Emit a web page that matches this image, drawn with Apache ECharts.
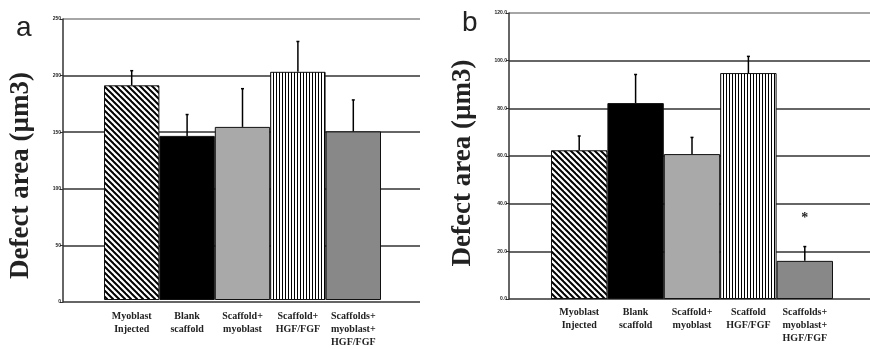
<!DOCTYPE html>
<html>
<head>
<meta charset="utf-8">
<script src="https://cdn.jsdelivr.net/npm/echarts@6/dist/echarts.min.js"></script>
<style>
  html, body { margin: 0; padding: 0; background: #fff; }
  #chart { width: 870px; height: 349px; }
</style>
</head>
<body>
<div id="chart"></div>
<script>
// panel a
const catsA = ['Myoblast\nInjected', 'Blank\nscaffold', 'Scaffold+\nmyoblast', 'Scaffold+\nHGF/FGF', 'Scaffolds+\nmyoblast+\nHGF/FGF']
const meanA = [191, 146, 154, 203, 150]
const sdA = [13, 19, 34, 27, 28]
const ticksA = ['0', '50', '100', '150', '200', '250']

// panel b
const catsB = ['Myoblast\nInjected', 'Blank\nscaffold', 'Scaffold+\nmyoblast', 'Scaffold\nHGF/FGF', 'Scaffolds+\nmyoblast+\nHGF/FGF']
const meanB = [62.4, 82.2, 60.8, 94.8, 16]
const sdB = [6, 12, 7, 7, 6]
const notesB = ['', '', '', '', '*']
const ticksB = ['0.0', '20.0', '40.0', '60.0', '80.0', '100.0', '120.0']

function diagStripes() {
  const c = document.createElement('canvas')
  c.width = 6; c.height = 6
  const g = c.getContext('2d')
  g.fillStyle = '#fff'; g.fillRect(0, 0, 6, 6)
  g.strokeStyle = '#000'; g.lineWidth = 2
  ;[[-1, -1, 7, 7], [-1, 5, 1, 7], [5, -1, 7, 1]].forEach(([x1, y1, x2, y2]) => {
    g.beginPath(); g.moveTo(x1, y1); g.lineTo(x2, y2); g.stroke()
  })
  return { image: c, repeat: 'repeat' }
}

function vertStripes() {
  const c = document.createElement('canvas')
  c.width = 3; c.height = 4
  const g = c.getContext('2d')
  g.fillStyle = '#fff'; g.fillRect(0, 0, 3, 4)
  g.fillStyle = '#000'; g.fillRect(0, 0, 1, 4)
  return { image: c, repeat: 'repeat' }
}

const fills = [diagStripes(), '#000', '#a9a9a9', vertStripes(), '#888']

const serif = 'Liberation Serif'

function frameY(max, interval, ticks, nameGap, shift) {
  const n = ticks.length
  return {
    type: 'value', min: 0, max, interval,
    name: 'Defect area (µm3)', nameLocation: 'middle', nameGap,
    nameTextStyle: { fontFamily: serif, fontWeight: 'bold', fontSize: 27, color: '#222', padding: [0, shift, 0, 0] },
    axisLine: { show: true, lineStyle: { color: '#333', width: 1.5 } },
    axisTick: { show: true, length: 3, lineStyle: { color: '#333' } },
    axisLabel: {
      fontSize: 5, fontWeight: 'bold', color: '#222', margin: 2,
      formatter: (v) => ticks[Math.round(v / interval)]
    },
    splitLine: {
      lineStyle: { width: 1.5, color: ticks.map((t, i) => (i === n - 1 ? '#888' : '#333')) }
    }
  }
}

function barsX(cats, margin) {
  return {
    type: 'category', data: cats,
    axisLine: { show: false }, axisTick: { show: false },
    axisLabel: {
      interval: 0, margin, fontFamily: serif, fontWeight: 'bold', fontSize: 10,
      lineHeight: 13, color: '#222'
    }
  }
}

function hiddenY(max) {
  return { type: 'value', min: 0, max, show: false, splitLine: { show: false } }
}

function barSeries(means, idx) {
  return {
    type: 'bar', xAxisIndex: idx, yAxisIndex: idx, barCategoryGap: 0,
    data: means.map((v, i) => ({
      value: v,
      itemStyle: { color: fills[i], borderColor: '#111', borderWidth: 1 }
    })),
    z: 2
  }
}

function errSeries(means, sds, notes, idx) {
  return {
    type: 'custom', xAxisIndex: idx, yAxisIndex: idx, z: 5,
    data: means.map((v, i) => [i, v, v + sds[i], notes ? notes[i] : '']),
    renderItem(params, api) {
      const p0 = api.coord([api.value(0), api.value(1)])
      const p1 = api.coord([api.value(0), api.value(2)])
      const children = [
        { type: 'line', shape: { x1: p0[0], y1: p0[1], x2: p1[0], y2: p1[1] }, style: { stroke: '#000', lineWidth: 1.5 } },
        { type: 'line', shape: { x1: p1[0] - 1.5, y1: p1[1], x2: p1[0] + 1.5, y2: p1[1] }, style: { stroke: '#000', lineWidth: 1.5 } }
      ]
      const note = api.value(3)
      if (note) {
        children.push({
          type: 'text',
          style: { text: note, x: p1[0], y: p1[1] - 28, align: 'center', verticalAlign: 'middle',
            font: 'bold 14px "Liberation Serif"', fill: '#222' }
        })
      }
      return { type: 'group', children }
    }
  }
}

const chart = echarts.init(document.getElementById('chart'), null, { renderer: 'canvas' })
chart.setOption({
  animation: false,
  title: [
    { text: 'a', left: 11, top: 9, textStyle: { fontFamily: 'Liberation Sans', fontWeight: 'normal', fontSize: 28, color: '#222' } },
    { text: 'b', left: 457, top: 4, textStyle: { fontFamily: 'Liberation Sans', fontWeight: 'normal', fontSize: 28, color: '#222' } }
  ],
  grid: [
    { left: 63, width: 357, top: 19, bottom: 47 },
    { left: 104, width: 277, top: 19, bottom: 47 },
    { left: 509, right: 0, top: 13, bottom: 50 },
    { left: 551, width: 282, top: 13, bottom: 50 }
  ],
  xAxis: [
    { type: 'value', show: false, gridIndex: 0 },
    Object.assign(barsX(catsA, 10), { gridIndex: 1 }),
    { type: 'value', show: false, gridIndex: 2 },
    Object.assign(barsX(catsB, 7), { gridIndex: 3 })
  ],
  yAxis: [
    Object.assign(frameY(250, 50, ticksA, 28, 30), { gridIndex: 0 }),
    Object.assign(hiddenY(250), { gridIndex: 1 }),
    Object.assign(frameY(120, 20, ticksB, 32, 14), { gridIndex: 2 }),
    Object.assign(hiddenY(120), { gridIndex: 3 })
  ],
  series: [
    barSeries(meanA, 1),
    errSeries(meanA, sdA, null, 1),
    barSeries(meanB, 3),
    errSeries(meanB, sdB, notesB, 3)
  ]
})
</script>
</body>
</html>
